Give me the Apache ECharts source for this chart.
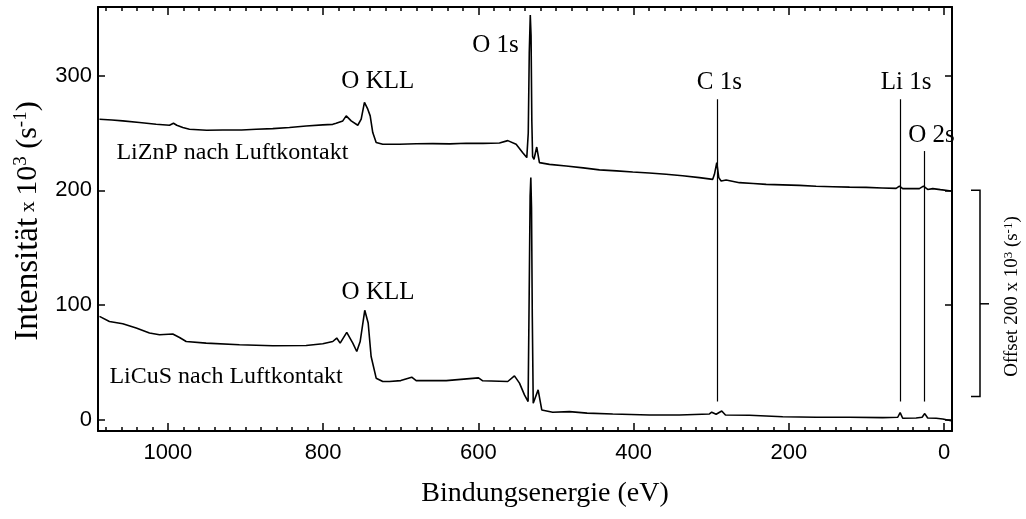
<!DOCTYPE html>
<html>
<head>
<meta charset="utf-8">
<title>XPS Übersichtsspektren</title>
<script src="https://cdn.jsdelivr.net/npm/echarts@6/dist/echarts.min.js"></script>
<style>
  html, body { margin: 0; padding: 0; background: #fff; }
  #chart { width: 1026px; height: 519px; }
</style>
</head>
<body>
<div id="chart"></div>
<script>
// Binding energy (eV) / intensity (10^3 s^-1) pairs.
// LiZnP is plotted with an offset of 200 x 10^3 s^-1 already included.
const liZnP = [
  [1088.1, 262.1], [1072.0, 261.4], [1058.1, 260.6], [1036.6, 259.2], [1015.1, 257.7],
  [997.9, 256.8], [992.8, 258.6], [988.5, 256.8], [980.8, 254.8], [972.2, 253.3],
  [950.0, 252.4], [929.3, 252.7], [905.0, 252.6], [886.3, 253.3], [864.9, 253.9],
  [843.4, 254.8], [821.9, 256.2], [800.5, 257.1], [787.6, 257.6], [783.2, 258.6],
  [774.7, 260.6], [770.3, 265.0], [763.9, 260.6], [755.4, 256.8], [751.0, 262.1],
  [746.8, 276.7], [742.5, 270.8], [739.4, 265.0], [736.1, 250.4], [731.7, 241.7],
  [723.2, 240.2], [701.7, 240.2], [680.0, 240.7], [658.8, 240.8], [637.0, 240.6],
  [615.8, 241.1], [594.0, 241.0], [572.9, 241.3], [562.2, 243.4], [551.4, 240.2],
  [542.9, 232.9], [537.7, 228.6], [535.8, 250.0], [534.5, 320.0], [533.2, 353.0],
  [532.2, 335.0], [531.2, 260.0], [530.2, 229.5], [528.4, 227.1], [524.9, 237.8],
  [521.4, 224.2], [508.5, 222.7], [487.0, 221.2], [465.0, 219.6], [444.1, 217.9],
  [422.0, 217.0], [401.2, 216.0], [380.0, 215.1], [358.2, 214.0], [337.0, 212.7],
  [315.3, 211.1], [298.2, 209.6], [296.0, 214.0], [293.0, 224.2], [290.4, 211.1],
  [287.4, 208.1], [280.9, 209.0], [263.8, 206.7], [246.0, 206.0], [229.4, 205.2],
  [208.0, 204.8], [186.5, 204.3], [165.0, 203.6], [143.6, 203.2], [122.0, 202.8],
  [100.6, 202.6], [80.0, 202.1], [62.0, 201.7], [57.7, 203.7], [53.5, 201.5],
  [32.0, 201.5], [26.8, 203.7], [21.3, 200.8], [14.8, 201.5], [5.0, 200.6],
  [-8.9, 199.4]
];

const liCuS = [
  [1088.1, 90.0], [1075.3, 85.6], [1058.1, 83.6], [1040.8, 79.9], [1023.7, 75.5],
  [1010.8, 74.0], [993.7, 74.6], [985.0, 71.6], [976.4, 68.1], [950.7, 66.7],
  [907.8, 65.3], [864.9, 64.4], [821.9, 64.6], [800.5, 66.1], [787.6, 68.1],
  [782.5, 71.1], [778.1, 66.7], [769.6, 76.0], [761.8, 66.7], [756.7, 59.4],
  [752.3, 68.1], [746.4, 95.3], [742.0, 84.2], [738.2, 55.0], [731.7, 36.1],
  [723.2, 33.2], [714.6, 33.2], [700.0, 34.0], [685.9, 37.0], [680.2, 34.0],
  [641.5, 34.0], [599.9, 36.4], [594.4, 33.8], [562.2, 33.2], [553.6, 38.1],
  [547.1, 31.8], [540.7, 21.5], [536.0, 15.7], [534.6, 110.0], [533.4, 195.0],
  [532.5, 211.1], [531.6, 185.0], [530.6, 90.0], [529.4, 14.3], [523.1, 25.9],
  [518.4, 8.4], [504.3, 6.4], [482.7, 6.9], [460.0, 5.6], [427.0, 4.9],
  [379.7, 4.0], [341.1, 4.0], [302.4, 4.9], [299.5, 6.4], [293.8, 4.6],
  [286.6, 7.5], [281.8, 4.0], [250.9, 3.8], [208.0, 2.5], [165.0, 2.0],
  [122.1, 2.0], [79.2, 1.7], [59.9, 2.0], [56.8, 6.0], [53.5, 1.1],
  [36.2, 1.4], [28.5, 2.0], [25.1, 5.2], [21.3, 1.4], [10.4, 1.1],
  [1.9, 0.5], [-8.9, -1.0]
];

// Peak markers: energy, lower end, upper end of the vertical guide lines
const peakLines = [
  [293.0, 15.7, 279.6],   // C 1s
  [56.8, 15.7, 279.6],    // Li 1s
  [25.1, 15.7, 234.3]     // O 2s
];

// Peak labels: text, energy and intensity of the label centre
const peakLabels = [
  ['O 1s', 578.0, 326.8],
  ['O KLL', 729.6, 295.3],
  ['C 1s', 289.7, 294.4],
  ['Li 1s', 49.1, 294.4],
  ['O 2s', 16.5, 247.5],
  ['O KLL', 729.3, 110.7]
];

// Sample names: text, energy of the left edge, intensity of the text centre
const sampleLabels = [
  ['LiZnP nach Luftkontakt', 1066.3, 233.2],
  ['LiCuS nach Luftkontakt', 1075.3, 37.5]
];

// Axis ticks
const xMajorTicks = [0, 200, 400, 600, 800, 1000];
const xMinorStep = 20;
const yMajorTicks = [0, 100, 200, 300];
const xRange = [-10, 1090];
const yRange = [-10, 360];

const xMinorTicks = [];
for (let e = 0; e <= 1080; e += xMinorStep) {
  if (xMajorTicks.indexOf(e) < 0) xMinorTicks.push(e);
}

const SERIF = "'Liberation Serif', 'Times New Roman', serif";
const SANS = "'Liberation Sans', Arial, sans-serif";
const INK = '#000';

const chart = echarts.init(document.getElementById('chart'), null, { renderer: 'canvas' });

function xAxisDef(position, ticks, tickLen, withLine, withLabels) {
  return {
    type: 'value', position: position, inverse: true,
    min: xRange[0], max: xRange[1],
    axisLine: { show: withLine, onZero: false, lineStyle: { color: INK, width: 2 } },
    axisTick: { show: true, inside: true, length: tickLen, customValues: ticks,
                lineStyle: { color: INK, width: 1.5 } },
    axisLabel: withLabels ? {
      show: true, customValues: xMajorTicks, color: INK, fontSize: 22,
      fontFamily: SANS, margin: 11, formatter: v => String(v)
    } : { show: false },
    splitLine: { show: false }
  };
}

function yAxisDef(position, withLabels) {
  return {
    type: 'value', position: position,
    min: yRange[0], max: yRange[1],
    axisLine: { show: true, onZero: false, lineStyle: { color: INK, width: 2 } },
    axisTick: { show: true, inside: true, length: 7, customValues: yMajorTicks,
                lineStyle: { color: INK, width: 1.5 } },
    axisLabel: withLabels ? {
      show: true, customValues: yMajorTicks, color: INK, fontSize: 22,
      fontFamily: SANS, margin: 6, formatter: v => String(v)
    } : { show: false },
    splitLine: { show: false }
  };
}

chart.setOption({
  animation: false,
  backgroundColor: '#fff',
  grid: { left: 98, right: 74, top: 7, bottom: 88 },
  xAxis: [
    xAxisDef('bottom', xMajorTicks, 8, true, true),
    xAxisDef('bottom', xMinorTicks, 4, false, false),
    xAxisDef('top', xMajorTicks, 8, true, false),
    xAxisDef('top', xMinorTicks, 4, false, false)
  ],
  yAxis: [
    yAxisDef('left', true),
    yAxisDef('right', false)
  ],
  series: [
    {
      name: 'LiZnP nach Luftkontakt', type: 'line', data: liZnP,
      xAxisIndex: 0, yAxisIndex: 0,
      showSymbol: false, symbol: 'none', silent: true,
      lineStyle: { color: INK, width: 1.6 }
    },
    {
      name: 'LiCuS nach Luftkontakt', type: 'line', data: liCuS,
      xAxisIndex: 0, yAxisIndex: 0,
      showSymbol: false, symbol: 'none', silent: true,
      lineStyle: { color: INK, width: 1.6 },
      markLine: {
        silent: true, symbol: ['none', 'none'], animation: false,
        label: { show: false },
        lineStyle: { color: INK, width: 1.2, type: 'solid' },
        data: peakLines.map(p => [{ coord: [p[0], p[1]] }, { coord: [p[0], p[2]] }])
      }
    }
  ]
});

// Text and bracket overlays, placed through the axes' own coordinate conversion
function toPx(e, v) {
  return chart.convertToPixel({ xAxisIndex: 0, yAxisIndex: 0 }, [e, v]);
}
function yPx(v) {
  return chart.convertToPixel({ yAxisIndex: 0 }, v);
}

const graphics = [];

peakLabels.forEach(l => {
  const p = toPx(l[1], l[2]);
  graphics.push({
    type: 'text', x: p[0], y: p[1], silent: true,
    style: { text: l[0], fill: INK, font: '25px ' + SERIF, align: 'center', verticalAlign: 'middle' }
  });
});

sampleLabels.forEach(l => {
  const p = toPx(l[1], l[2]);
  graphics.push({
    type: 'text', x: p[0], y: p[1], silent: true,
    style: { text: l[0], fill: INK, font: '24px ' + SERIF, align: 'left', verticalAlign: 'middle' }
  });
});

// Axis titles
const gridRight = toPx(xRange[0], 0)[0];
const gridBottom = yPx(yRange[0]);
graphics.push({
  type: 'text', x: 545, y: gridBottom + 63, silent: true,
  style: { text: 'Bindungsenergie (eV)', fill: INK, font: '28px ' + SERIF,
           align: 'center', verticalAlign: 'middle' }
});

graphics.push({
  type: 'text', x: 28, y: (yPx(yRange[0]) + yPx(yRange[1])) / 2 + 2, rotation: Math.PI / 2, silent: true,
  style: {
    text: '{a|Intensität}{b| x }{c|10}{d|3}{c| (s}{d|-1}{c|)}',
    align: 'center', verticalAlign: 'middle', fill: INK,
    rich: {
      a: { fontSize: 33, fontFamily: SERIF, fill: INK },
      b: { fontSize: 22, fontFamily: SERIF, fill: INK },
      c: { fontSize: 30, fontFamily: SERIF, fill: INK },
      d: { fontSize: 19, fontFamily: SERIF, fill: INK, verticalAlign: 'top' }
    }
  }
});

// Offset bracket on the right, spanning the shift between the two spectra
const bTop = yPx(200), bMid = yPx(101), bBot = yPx(20);
const bx = gridRight + 28;
graphics.push({
  type: 'polyline', silent: true,
  shape: { points: [[bx - 9, bTop], [bx, bTop], [bx, bBot], [bx - 9, bBot]] },
  style: { stroke: INK, lineWidth: 1.5, fill: null }
});
graphics.push({
  type: 'line', silent: true,
  shape: { x1: bx, y1: bMid, x2: bx + 9, y2: bMid },
  style: { stroke: INK, lineWidth: 1.5 }
});
graphics.push({
  type: 'text', x: bx + 32, y: (bTop + bBot) / 2 + 3, rotation: Math.PI / 2, silent: true,
  style: {
    text: '{c|Offset 200 x 10}{d|3}{c| (s}{d|-1}{c|)}',
    align: 'center', verticalAlign: 'middle', fill: INK,
    rich: {
      c: { fontSize: 19, fontFamily: SERIF, fill: INK },
      d: { fontSize: 13, fontFamily: SERIF, fill: INK, verticalAlign: 'top' }
    }
  }
});

chart.setOption({ graphic: graphics });
</script>
</body>
</html>
